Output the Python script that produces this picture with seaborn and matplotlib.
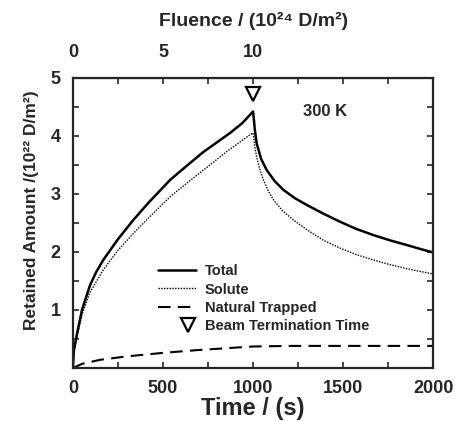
import matplotlib
matplotlib.use("Agg")
import matplotlib.pyplot as plt
from matplotlib.ticker import MultipleLocator, FixedLocator, FixedFormatter
from matplotlib.legend_handler import HandlerLine2D
import seaborn as sns

# dados (tempo em s, quantidade em 10^22 D/m^2)
t_total = [0, 5, 20, 50, 94, 130, 168, 250, 335, 420, 539, 630, 723, 800, 872, 940, 1000,
           1010, 1020, 1045, 1076, 1120, 1168, 1230, 1298, 1390, 1483, 1570,
           1668, 1760, 1852, 1930, 2000]
v_total = [0.0, 0.3, 0.55, 1.0, 1.42, 1.66, 1.86, 2.22, 2.55, 2.85, 3.24, 3.48, 3.72, 3.89, 4.05, 4.22, 4.42,
           4.1, 3.87, 3.6, 3.41, 3.22, 3.07, 2.93, 2.81, 2.66, 2.52, 2.40,
           2.29, 2.2, 2.12, 2.05, 1.99]

t_solute = [0, 5, 20, 50, 94, 168, 250, 354, 450, 539, 630, 724, 850, 983, 1000,
            1010, 1020, 1035, 1057, 1085, 1113, 1160, 1224, 1300, 1391, 1480,
            1576, 1670, 1761, 1870, 2000]
v_solute = [0.0, 0.28, 0.5, 0.92, 1.3, 1.69, 2.03, 2.38, 2.68, 2.95, 3.18, 3.41, 3.72, 4.02, 4.05,
            3.8, 3.64, 3.45, 3.24, 3.05, 2.9, 2.72, 2.55, 2.38, 2.2, 2.07,
            1.95, 1.86, 1.78, 1.7, 1.62]

t_trapped = [0, 50, 150, 300, 500, 700, 850, 1000, 1200, 1500, 2000]
v_trapped = [0.0, 0.07, 0.14, 0.2, 0.26, 0.31, 0.34, 0.37, 0.38, 0.38, 0.38]

beam_off_time = 1000
fluence_ticks = [0, 5, 10, 15, 20]
fluence_labels = ['0', '5', '10', '', '']


class MarcadorDireita(HandlerLine2D):
    # coloca o triangulo no fim da alca, perto do texto
    def get_xdata(self, legend, xdescent, ydescent, width, height, fontsize):
        x = width - xdescent - 6
        return [x - 1, x + 1], [x]


sns.set_style('ticks')
plt.rcParams['font.family'] = ['Liberation Sans', 'DejaVu Sans']
plt.rcParams['font.weight'] = 'bold'
plt.rcParams['axes.labelweight'] = 'bold'

fig = plt.figure(figsize=(4.56, 4.21), dpi=100)
ax = fig.add_axes([0.160, 0.126, 0.790, 0.689])

sns.lineplot(x=t_total, y=v_total, ax=ax, color='black', lw=1.8, label='Total')
sns.lineplot(x=t_solute, y=v_solute, ax=ax, color='black', lw=1.0,
             linestyle=(0, (1, 1)), label='Solute')
sns.lineplot(x=t_trapped, y=v_trapped, ax=ax, color='black', lw=1.5,
             linestyle=(0, (6, 3.5)), label='Natural Trapped')
tri, = ax.plot([beam_off_time], [4.72], marker='v', ms=10, mfc='white', mec='black',
               mew=1.6, ls='none', label='Beam Termination Time')

ax.text(1400, 4.42, '300 K', fontsize=12, fontweight='bold', ha='center', va='center')

ax.set_xlim(0, 2000)
ax.set_ylim(0, 5)
ax.xaxis.set_major_locator(MultipleLocator(500))
ax.xaxis.set_minor_locator(MultipleLocator(250))
ax.yaxis.set_major_locator(FixedLocator([1, 2, 3, 4, 5]))
ax.yaxis.set_minor_locator(MultipleLocator(0.5))
ax.tick_params(which='both', direction='in', right=True, length=4, width=1.2,
               labelsize=13, pad=9)
for s in ax.spines.values():
    s.set_linewidth(1.6)

ax.set_xlabel('Time / (s)', fontsize=17, labelpad=0)
ax.set_ylabel('Retained Amount /(10²² D/m²)', fontsize=12.5)
ax.yaxis.set_label_coords(-0.094, 0.545)

top = ax.secondary_xaxis('top', functions=(lambda t: t / 100, lambda f: f * 100))
top.xaxis.set_major_locator(FixedLocator(fluence_ticks))
top.xaxis.set_major_formatter(FixedFormatter(fluence_labels))
top.xaxis.set_minor_locator(MultipleLocator(2.5))
top.tick_params(which='both', direction='in', length=4, width=1.2, labelsize=13, pad=12)
top.set_xlabel('Fluence / (10²⁴ D/m²)', fontsize=14, labelpad=13)

ax.legend(loc='upper left', bbox_to_anchor=(0.208, 0.393), frameon=False,
          fontsize=10.5, handlelength=2.6, labelspacing=0.3, handletextpad=0.6,
          borderpad=0.2, handler_map={tri: MarcadorDireita()})

fig.savefig('out.png', dpi=100)
